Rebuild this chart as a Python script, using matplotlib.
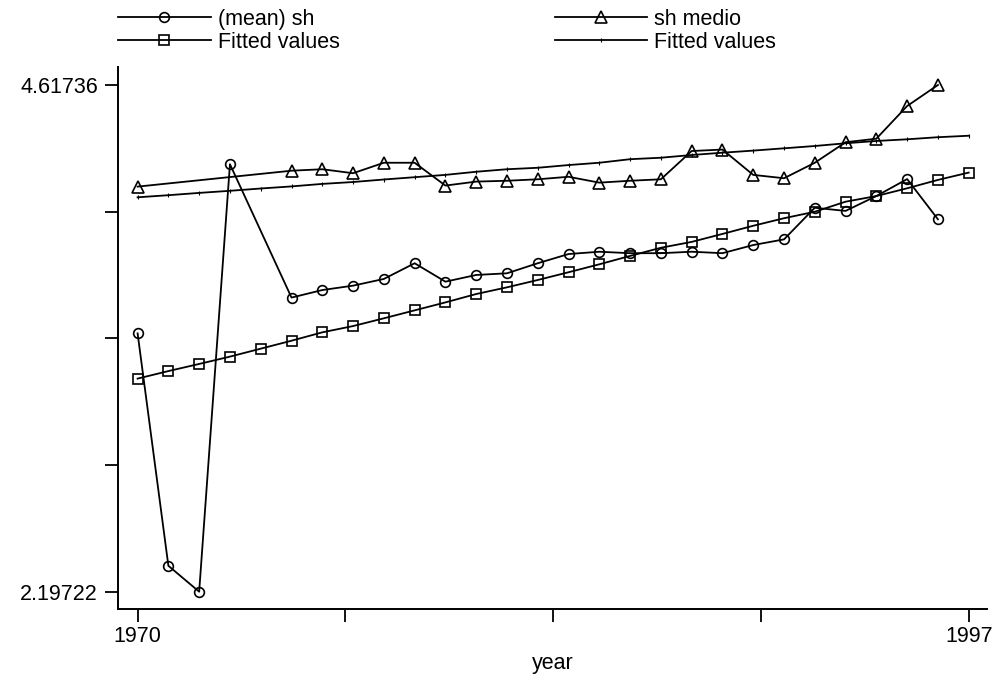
import numpy as np
import matplotlib
matplotlib.use('Agg')
import matplotlib.pyplot as plt

plt.rcParams['font.family'] = ['Liberation Sans', 'DejaVu Sans']

years = np.arange(1970, 1998)

# (mean) sh, nan where the point is missing
mean_sh = [3.431, 2.321, 2.19722, 4.239, np.nan, 3.602, 3.638, 3.659, 3.691, 3.766,
           3.678, 3.710, 3.718, 3.766, 3.810, 3.821, 3.814, 3.814, 3.821, 3.814,
           3.853, 3.880, 4.031, 4.016, 4.087, 4.168, 3.976, np.nan]

# sh medio
sh_medio = [4.132, np.nan, np.nan, np.nan, np.nan, 4.208, 4.215, 4.196, 4.246, 4.246,
            4.137, 4.156, 4.160, 4.167, 4.179, 4.151, 4.160, 4.167, 4.302, 4.309,
            4.188, 4.172, 4.246, 4.344, 4.361, 4.517, 4.61736, np.nan]

# fitted values for (mean) sh
fit_mean = [3.215, 3.251, 3.285, 3.320, 3.358, 3.396, 3.436, 3.466, 3.503, 3.541,
            3.579, 3.619, 3.651, 3.686, 3.723, 3.761, 3.801, 3.840, 3.868, 3.906,
            3.945, 3.981, 4.012, 4.060, 4.087, 4.124, 4.164, 4.199]

# fitted values for sh medio
fit_medio = [4.081, 4.091, 4.102, 4.112, 4.123, 4.133, 4.145, 4.154, 4.166, 4.177,
             4.188, 4.203, 4.215, 4.222, 4.235, 4.246, 4.263, 4.270, 4.283, 4.294,
             4.304, 4.315, 4.326, 4.339, 4.350, 4.358, 4.368, 4.375]

y_lo, y_hi = 2.19722, 4.61736

fig = plt.figure(figsize=(10.03, 6.75), dpi=100)
ax = fig.add_axes([118/1003, 1 - 609/675, (987 - 118)/1003, (609 - 67)/675])

def present(vals):
    v = np.array(vals, dtype=float)
    m = ~np.isnan(v)
    return years[m], v[m]

lw = 1.3
mk = dict(mfc='none', mec='black', mew=1.2)
x, y = present(mean_sh)
ax.plot(x, y, color='black', lw=lw, marker='o', ms=7, label='(mean) sh', **mk)
x, y = present(fit_mean)
ax.plot(x, y, color='black', lw=lw, marker='s', ms=7.5, label='Fitted values', **mk)
x, y = present(sh_medio)
ax.plot(x, y, color='black', lw=lw, marker='^', ms=8.5, label='sh medio', **mk)
x, y = present(fit_medio)
ax.plot(x, y, color='black', lw=lw, marker='|', ms=3, mew=0.8, label='Fitted values')

ax.set_xlim(1970 - 19.6/30.78, 1997 + 18.3/30.78)
ax.set_ylim(y_lo - 17.3*0.0047763, y_hi + 18*0.0047763)

for s in ['top', 'right']:
    ax.spines[s].set_visible(False)
for s in ['left', 'bottom']:
    ax.spines[s].set_linewidth(1.4)

xt = np.linspace(1970, 1997, 5)
ax.set_xticks(xt)
ax.set_xticklabels(['1970', '', '', '', '1997'])
yt = np.linspace(y_lo, y_hi, 5)
ax.set_yticks(yt)
ax.set_yticklabels(['2.19722', '', '', '', '4.61736'])
ax.tick_params(axis='both', direction='out', length=9.5, width=1.3, labelsize=15.5, colors='black')
ax.tick_params(axis='x', pad=3)
ax.tick_params(axis='y', pad=5)
ax.set_xlabel('year', fontsize=15.5, labelpad=4)

fig.legend(loc='upper left', bbox_to_anchor=(118/1003, 1 - 9/675), ncol=2, frameon=False,
           fontsize=15.5, handlelength=4.3, handletextpad=0.33, columnspacing=10.0,
           labelspacing=0.08, borderpad=0, borderaxespad=0)

fig.savefig('out.png', dpi=100)
